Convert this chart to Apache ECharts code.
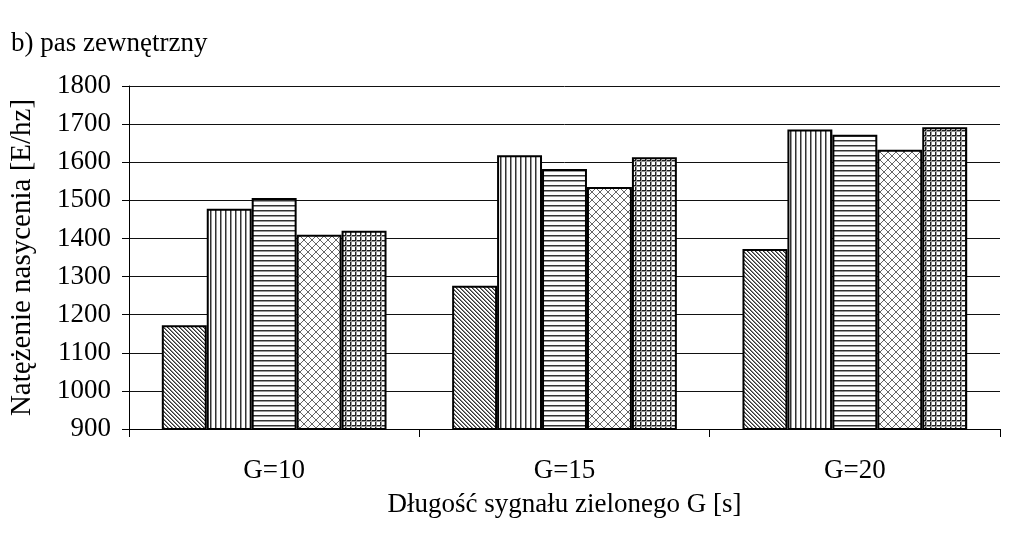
<!DOCTYPE html>
<html><head><meta charset="utf-8">
<script src="https://cdn.jsdelivr.net/npm/echarts@6/dist/echarts.min.js"></script>
<style>html,body{margin:0;padding:0;background:#fff}#c{width:1024px;height:537px}</style>
</head><body><div id="c"></div>
<script>
const categories = ['G=10', 'G=15', 'G=20'];
const s1 = [1172, 1276, 1372];
const s2 = [1478, 1618, 1686];
const s3 = [1506, 1582, 1672];
const s4 = [1410, 1535, 1633];
const s5 = [1420, 1613, 1692];
const seriesNames = ['A', 'B', 'C', 'D', 'E'];
const seriesValues = [s1, s2, s3, s4, s5];

function pat(kind) {
  const c = document.createElement('canvas');
  let n = 6;
  if (kind === 'diag') n = 4;
  if (kind === 'vert') n = 5;
  if (kind === 'hor') n = 5;
  if (kind === 'cross') n = 8;
  if (kind === 'grid') n = 5;
  c.width = n; c.height = n;
  const g = c.getContext('2d');
  g.fillStyle = '#fff'; g.fillRect(0, 0, n, n);
  if (kind === 'diag') {
    for (let i = 0; i < n; i++) {
      g.fillStyle = '#333'; g.fillRect(i, i, 1, 1);
      g.fillStyle = '#888'; g.fillRect((i + 1) % n, i, 1, 1);
    }
  } else if (kind === 'vert') {
    g.fillStyle = '#333'; g.fillRect(0, 0, 1, n); g.fillStyle = '#999'; g.fillRect(1, 0, 1, n);
  } else if (kind === 'hor') {
    g.fillStyle = '#333'; g.fillRect(0, 0, n, 1); g.fillStyle = '#999'; g.fillRect(0, 1, n, 1);
  } else if (kind === 'cross') {
    g.fillStyle = '#666';
    for (let i = 0; i < n; i++) { g.fillRect(i, i, 1, 1); g.fillRect(n - 1 - i, i, 1, 1); }
  } else if (kind === 'grid') {
    g.fillStyle = '#222'; g.fillRect(0, 0, 1, n); g.fillRect(0, 0, n, 1);
    g.fillStyle = '#999'; g.fillRect(1, 0, 1, n); g.fillRect(0, 1, n, 1);
  }
  return { image: c, repeat: 'repeat' };
}
const patterns = ['diag', 'vert', 'hor', 'cross', 'grid'];

const font = '"Liberation Serif", "DejaVu Serif", serif';
const chart = echarts.init(document.getElementById('c'), null, { renderer: 'canvas' });
chart.setOption({
  animation: false,
  backgroundColor: '#fff',
  title: { text: 'b) pas zewnętrzny', left: 6, top: 25, textStyle: { fontFamily: font, fontSize: 27, fontWeight: 'normal', color: '#000' } },
  grid: { left: 129, right: 24, top: 86, bottom: 108 },
  xAxis: {
    type: 'category', data: categories,
    name: 'Długość sygnału zielonego G [s]', nameLocation: 'middle', nameGap: 62,
    nameTextStyle: { fontFamily: font, fontSize: 27, color: '#000' },
    axisLine: { lineStyle: { color: '#000', width: 1 } },
    axisTick: { show: true, length: 8, lineStyle: { color: '#000' } },
    axisLabel: { fontFamily: font, fontSize: 27, color: '#000', margin: 28 }
  },
  yAxis: {
    type: 'value', min: 900, max: 1800, interval: 100,
    name: 'Natężenie nasycenia [E/hz]', nameLocation: 'middle', nameGap: 92, nameRotate: 90,
    nameTextStyle: { fontFamily: font, fontSize: 29, color: '#000' },
    axisLine: { show: true, lineStyle: { color: '#000', width: 1 } },
    axisTick: { show: true, length: 7, lineStyle: { color: '#000' } },
    axisLabel: { fontFamily: font, fontSize: 27, color: '#000', margin: 18, formatter: v => String(v) },
    splitLine: { show: true, lineStyle: { color: '#111', width: 1 } }
  },
  series: seriesValues.map((vals, i) => ({
    name: seriesNames[i], type: 'bar', data: vals,
    barGap: '0%', barCategoryGap: '22.6%',
    itemStyle: { color: pat(patterns[i]), borderColor: '#000', borderWidth: 2 }
  }))
});
</script>
</body></html>
